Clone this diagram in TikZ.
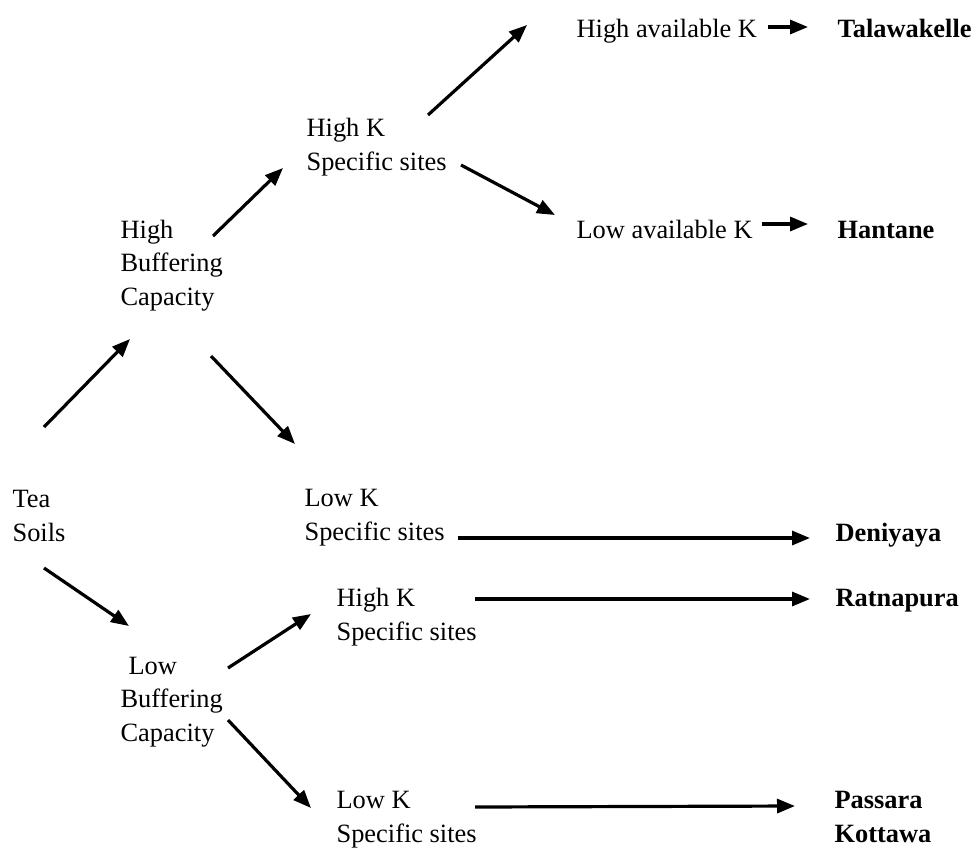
\documentclass[tikz,border=0pt]{standalone}
\usepackage{fontspec}
\setmainfont{Liberation Serif}
\usetikzlibrary{arrows.meta}

\begin{document}
\begin{tikzpicture}[x=0.5pt,y=-0.5pt,
        >={Triangle[length=9pt,width=7pt]},line width=1.6pt,
        every node/.style={inner sep=0pt,anchor=base west,align=left,
          font=\fontsize{13.2}{16.75}\selectfont},
        site/.style={font=\fontsize{13.2}{16.75}\selectfont\bfseries}]

      \useasboundingbox (0,0) rectangle (974,847);

      % left column (base = last line)
      \node (tea)     at (11,541)   {Tea\\Soils};
      \node (hibuf)   at (119,305)  {High\\Buffering\\Capacity};
      \node (lobuf)   at (119,741)  {\hspace*{4pt}Low\\Buffering\\Capacity};

      % K specific sites
      \node (hiKa)    at (305,170)  {High K\\Specific sites};
      \node (loKa)    at (303,540)  {Low K\\Specific sites};
      \node (hiKb)    at (335,640)  {High K\\Specific sites};
      \node (loKb)    at (335,842)  {Low K\\Specific sites};

      % available K
      \node (hiavail) at (575,37)   {High available K};
      \node (loavail) at (575,238)  {Low available K};

      % sites
      \node[site] (tala)  at (836,37)  {Talawakelle};
      \node[site] (hant)  at (836,238) {Hantane};
      \node[site] (deni)  at (834,541) {Deniyaya};
      \node[site] (ratna) at (834,606) {Ratnapura};
      \node[site] (pass)  at (833,842) {Passara\\Kottawa};

      \draw[->] ([shift={(33,-114)}]tea.base west) -- ([shift={(11,34)}]hibuf.base west);
      \draw[->] ([shift={(33,27)}]tea.base west) -- ([shift={(10,-115)}]lobuf.base west);

      \draw[->] ([shift={(94,-69)}]hibuf.base west) -- ([shift={(-22,-2)}]hiKa.base west);
      \draw[->] ([shift={(92,51)}]hibuf.base west) -- ([shift={(-8,-96)}]loKa.base west);

      \draw[->] ([shift={(109,-73)}]lobuf.base west) -- ([shift={(-24,-26)}]hiKb.base west);
      \draw[->] ([shift={(109,-21)}]lobuf.base west) -- ([shift={(-24,-34)}]loKb.base west);

      \draw[->] ([shift={(123,-55)}]hiKa.base west) -- ([shift={(-48,-12)}]hiavail.base west);
      \draw[->] ([shift={(156,-5)}]hiKa.base west) -- ([shift={(-20,-23)}]loavail.base west);

      \draw[->] ([shift={(193,-10)}]hiavail.base west) -- ([shift={(-28,-10)}]tala.base west);
      \draw[->] ([shift={(187,-14)}]loavail.base west) -- ([shift={(-28,-14)}]hant.base west);
      \draw[->] ([shift={(155,-2)}]loKa.base west) -- ([shift={(-24,-3)}]deni.base west);
      \draw[->] ([shift={(140,-41)}]hiKb.base west) -- ([shift={(-24,-7)}]ratna.base west);
      \draw[->] ([shift={(140,-35)}]loKb.base west) -- ([shift={(-38,-36)}]pass.base west);

    \end{tikzpicture}
\end{document}
